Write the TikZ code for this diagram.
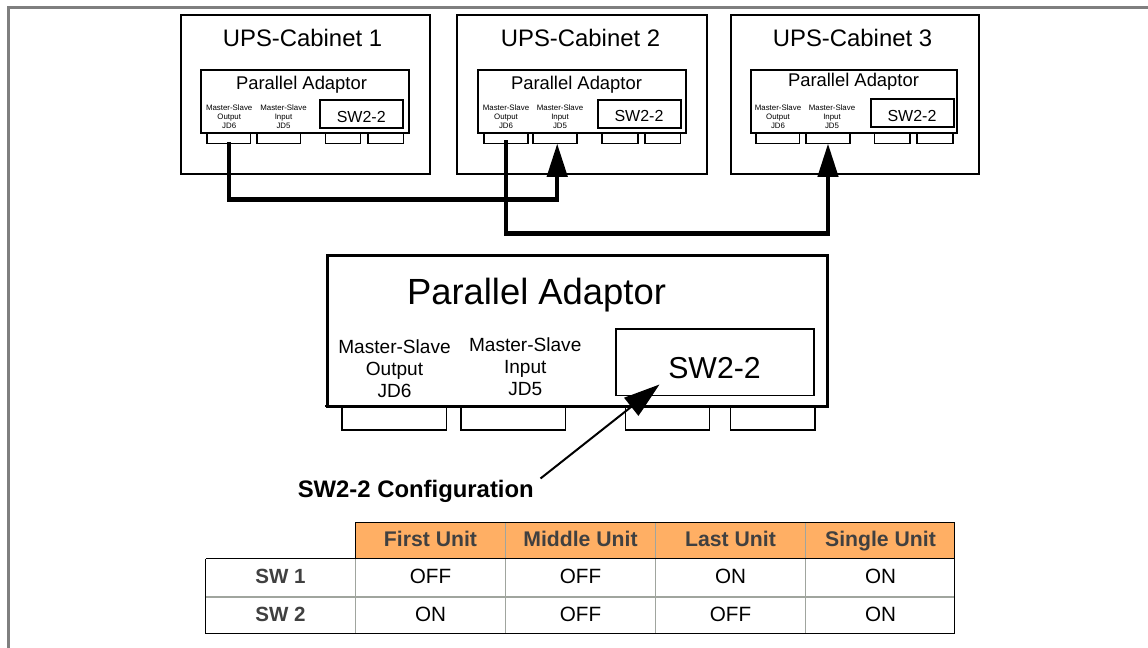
\documentclass[tikz,border=0pt]{standalone}
\usepackage{fontspec}
\setmainfont{Liberation Sans}
\usetikzlibrary{arrows.meta}
\definecolor{edgegray}{HTML}{7F7F7F}
\definecolor{headfill}{HTML}{FFAF64}
\definecolor{gridgray}{HTML}{A0A59E}
\definecolor{headtext}{HTML}{404040}
\tikzset{
  x=0.75pt,y=-0.75pt,
  box/.style={draw=black,line width=1.5pt,fill=white,inner sep=0pt,outer sep=0pt,anchor=north west},
  bigbox/.style={box,line width=2pt},
  inbox/.style={draw=black,line width=1.3pt,fill=white,inner sep=0pt,outer sep=0pt,anchor=north west},
  txt/.style={inner sep=0pt,align=center,text=black},
  captxt/.style={txt,font=\fontsize{17.9}{20}\selectfont},
  smalltxt/.style={txt,font=\fontsize{13.8}{16}\selectfont},
  swtxt/.style={txt,font=\fontsize{12}{14}\selectfont},
  tinytxt/.style={txt,font=\fontsize{5.9}{6.75}\selectfont},
  biglabel/.style={txt,font=\fontsize{14.3}{16.5}\selectfont},
  wire/.style={line width=3.3pt,-{Triangle[length=25pt,width=15pt]},line join=miter},
  hcell/.style={inner sep=0pt,text depth=0pt,text=headtext,font=\fontsize{15.9}{18}\selectfont\bfseries},
  rcell/.style={inner sep=0pt,text=headtext,font=\fontsize{15.4}{18}\selectfont\bfseries},
  vcell/.style={inner sep=0pt,text=black,font=\fontsize{15.5}{18}\selectfont},
}
\newcommand{\ubox}[6]{\node[#2,minimum width={(#5-#3)*0.75pt},minimum height={(#6-#4)*0.75pt}] (#1) at (#3,#4) {};}
\begin{document}
\begin{tikzpicture}
\useasboundingbox (-0.5,-0.5) rectangle (1147.5,647.5);
\fill[white] (-0.5,-0.5) rectangle (1147.5,647.5);
\draw[edgegray,line width=2.25pt] (8,647.5) -- (8,6.8) -- (1147.5,6.8);

% cabinets
\ubox{c1}{box}{180.7}{14.7}{429}{174}
\ubox{c2}{box}{456.7}{14.7}{706.3}{174}
\ubox{c3}{box}{730}{14.7}{978.3}{174}
\node[captxt] (c1t) at (302,37.5) {UPS-Cabinet 1};
\node[captxt] (c2t) at (580,37.5) {UPS-Cabinet 2};
\node[captxt] (c3t) at (852,37.5) {UPS-Cabinet 3};

% cabinet 1
\ubox{p1a}{inbox}{206.7}{125}{250}{143}
\ubox{p1b}{inbox}{256.7}{125}{300}{143}
\ubox{p1c}{inbox}{325}{125}{360}{143}
\ubox{p1d}{inbox}{367.7}{125}{403}{143}
\ubox{a1}{box}{200.7}{70}{408}{133}
\ubox{s1}{box}{319.7}{99.7}{402}{128}
\node[smalltxt] (a1t) at (301,84) {Parallel Adaptor};
\node[swtxt] (s1t) at (360.7,116) {SW2-2};
\node[tinytxt] (l1a) at (228.7,116) {Master-Slave\\Output\\JD6};
\node[tinytxt] (l1b) at (283,115.7) {Master-Slave\\Input\\JD5};

% cabinet 2
\ubox{p2a}{inbox}{483.3}{125}{527.3}{143}
\ubox{p2b}{inbox}{532.7}{125}{576.7}{143}
\ubox{p2c}{inbox}{601.7}{125}{637.3}{143}
\ubox{p2d}{inbox}{644.3}{125}{680}{143}
\ubox{a2}{box}{477.3}{70}{685.3}{133}
\ubox{s2}{box}{597.3}{99.7}{680}{128}
\node[smalltxt] (a2t) at (576,84.5) {Parallel Adaptor};
\node[swtxt] (s2t) at (638.5,115.7) {SW2-2};
\node[tinytxt] (l2a) at (505.5,116) {Master-Slave\\Output\\JD6};
\node[tinytxt] (l2b) at (559.5,115.7) {Master-Slave\\Input\\JD5};

% cabinet 3
\ubox{p3a}{inbox}{755.7}{125}{799}{143}
\ubox{p3b}{inbox}{805.7}{125}{849.3}{143}
\ubox{p3c}{inbox}{874}{125}{909.3}{143}
\ubox{p3d}{inbox}{916.7}{125}{952.7}{143}
\ubox{a3}{box}{750}{70}{956.7}{133}
\ubox{s3}{box}{870.7}{98.7}{953}{127}
\node[smalltxt] (a3t) at (853,81.5) {Parallel Adaptor};
\node[swtxt] (s3t) at (911.5,115.3) {SW2-2};
\node[tinytxt] (l3a) at (777.5,116) {Master-Slave\\Output\\JD6};
\node[tinytxt] (l3b) at (831.5,115.7) {Master-Slave\\Input\\JD5};

% wires
\draw[wire] ([yshift=1pt]p1a.south) -- ++(0,57.5) -| ([xshift=1.5pt]p2b.south);
\draw[wire] ([yshift=2.5pt]p2a.south) -- ++(0,93.3) -| (p3b.south);

% big adaptor
\ubox{pa}{inbox}{341.7}{400}{446}{429.5}
\ubox{pb}{inbox}{460.7}{400}{565}{429.5}
\ubox{pc}{inbox}{625}{400}{709}{429.5}
\ubox{pd}{inbox}{730}{400}{814.3}{429.5}
\ubox{big}{bigbox}{326.7}{255}{827}{405.7}
\draw[line width=1.5pt] (big.south west) -- ++(-1.8,0);
\ubox{bs}{inbox}{615.7}{328.3}{813.3}{395}
\node[txt,font=\fontsize{27.3}{30}\selectfont] (bigt) at (536,294.5) {Parallel Adaptor};
\node[txt,font=\fontsize{22.7}{26}\selectfont] (bst) at (714,368) {SW2-2};
\node[biglabel] (bl1) at (394,368) {Master-Slave\\Output\\JD6};
\node[biglabel] (bl2) at (524.7,366) {Master-Slave\\Input\\JD5};

% pointer
\node[txt,anchor=west,font=\fontsize{17.9}{20}\selectfont\bfseries] (cfg) at (297,491) {SW2-2 Configuration};
\coordinate (from) at (540,478);
\coordinate (to) at (659,384);
\draw[line width=1.5pt,-{Triangle[length=27pt,width=17pt]}] (from) -- (to);

% table
\coordinate (tl) at (355,521.7);
\coordinate (tr) at (954,521.7);
\coordinate (ml) at (205,558);
\coordinate (mr) at (954,558);
\coordinate (bl) at (205,633);
\coordinate (br) at (954,633);
\fill[headfill] (tl) rectangle (mr);
\draw[gridgray,line width=1.1pt] (505,521.7) -- (505,633);
\draw[gridgray,line width=1.1pt] (655,521.7) -- (655,633);
\draw[gridgray,line width=1.1pt] (805,521.7) -- (805,633);
\draw[gridgray,line width=1.1pt] (355,558) -- (355,633);
\draw[gridgray,line width=1.5pt] (205,596) -- (954,596);
\draw[black,line width=0.75pt] (ml) -- (mr);
\draw[black,line width=0.75pt,line join=miter] (355,558) -- (tl) -- (tr) -- (br) -- (bl) -- (ml);

\node[hcell] (h1) at (430,538.5) {First Unit};
\node[hcell] (h2) at (580,538.5) {Middle Unit};
\node[hcell] (h3) at (730,538.5) {Last Unit};
\node[hcell] (h4) at (880,538.5) {Single Unit};
\node[rcell] (r1) at (280,576) {SW 1};
\node[rcell] (r2) at (280,613.5) {SW 2};
\node[vcell] (v11) at (430,576) {OFF};
\node[vcell] (v12) at (580,576) {OFF};
\node[vcell] (v13) at (730,576) {ON};
\node[vcell] (v14) at (880,576) {ON};
\node[vcell] (v21) at (430,613.5) {ON};
\node[vcell] (v22) at (580,613.5) {OFF};
\node[vcell] (v23) at (730,613.5) {OFF};
\node[vcell] (v24) at (880,613.5) {ON};
\end{tikzpicture}
\end{document}
